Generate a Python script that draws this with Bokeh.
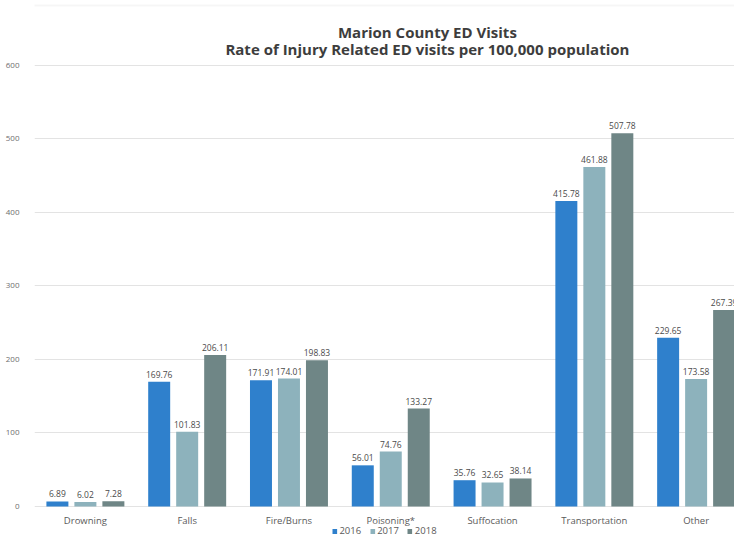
from bokeh.plotting import figure
from bokeh.models import (ColumnDataSource, Range1d, FixedTicker, Legend,
                          LegendItem, Label, BoxAnnotation)
from bokeh.transform import dodge
from bokeh.core.properties import value
from bokeh.embed import file_html
from bokeh.resources import INLINE

categories = ["Drowning", "Falls", "Fire/Burns", "Poisoning*",
              "Suffocation", "Transportation", "Other"]
years = ["2016", "2017", "2018"]
rate_2016 = [6.89, 169.76, 171.91, 56.01, 35.76, 415.78, 229.65]
rate_2017 = [6.02, 101.83, 174.01, 74.76, 32.65, 461.88, 173.58]
rate_2018 = [7.28, 206.11, 198.83, 133.27, 38.14, 507.78, 267.39]
y_ticks = [0, 100, 200, 300, 400, 500, 600]

colors = ["#2f80cc", "#8db2bc", "#6f8686"]
FONT = "Open Sans"

src = ColumnDataSource(dict(
    x=list(range(len(categories))),
    cat=categories,
    r2016=rate_2016, r2017=rate_2017, r2018=rate_2018,
    t2016=[f"{v:.2f}" for v in rate_2016],
    t2017=[f"{v:.2f}" for v in rate_2017],
    t2018=[f"{v:.2f}" for v in rate_2018],
))

# the plot area runs the full height; category names and legend sit below zero
p = figure(width=734, height=540, output_backend="svg", toolbar_location=None,
           x_range=Range1d(-0.5, 6.377), y_range=Range1d(-46.26, 688.4),
           min_border_left=34, min_border_right=0, min_border_top=0,
           min_border_bottom=0)
p.outline_line_color = None
p.background_fill_color = "white"
p.border_fill_color = "white"
p.xaxis.visible = False

# thin frame around the slide area
p.add_layout(BoxAnnotation(left=-0.765, right=10, top=681.6, bottom=-200,
                           fill_color=None, line_color="#e2e2e2",
                           line_width=2, level="underlay"))

offsets = [-0.275, 0.0, 0.275]
items = []
for yr, off, col in zip(years, offsets, colors):
    r = p.vbar(x=dodge("x", off, range=p.x_range), top="r" + yr, width=0.216,
               bottom=0, source=src, fill_color=col, line_color=None)
    items.append(LegendItem(label=yr, renderers=[r]))
    p.text(x=dodge("x", off, range=p.x_range), y="r" + yr, text="t" + yr,
           source=src, text_align="center", text_baseline="bottom",
           y_offset=-4, text_font=value(FONT), text_font_size="8.5px",
           text_color="#4a4a4a")

# category names under the baseline
p.text(x="x", y=0, text="cat", source=src, text_align="center",
       text_baseline="top", y_offset=8, text_font=value(FONT),
       text_font_size="9.5px", text_color="#5a5a5a")

# two-line heading
p.add_layout(Label(x=3.36, y=646, text="Marion County ED Visits",
                   text_align="center", text_baseline="middle",
                   text_font=FONT, text_font_style="bold",
                   text_font_size="15px", text_color="#3d3d3d"))
p.add_layout(Label(x=3.36, y=622,
                   text="Rate of Injury Related ED visits per 100,000 population",
                   text_align="center", text_baseline="middle",
                   text_font=FONT, text_font_style="bold",
                   text_font_size="15px", text_color="#3d3d3d"))

# value axis
p.yaxis.ticker = FixedTicker(ticks=y_ticks)
p.yaxis.axis_line_color = None
p.yaxis.major_tick_line_color = None
p.yaxis.minor_tick_line_color = None
p.yaxis.major_label_standoff = 9
p.yaxis.major_label_text_font = FONT
p.yaxis.major_label_text_font_size = "8px"
p.yaxis.major_label_text_color = "#6e6e6e"

p.xgrid.grid_line_color = None
p.ygrid.ticker = FixedTicker(ticks=y_ticks)
p.ygrid.grid_line_color = "#e3e3e3"
p.ygrid.grid_line_width = 1

legend = Legend(items=items, orientation="horizontal", location="bottom_center",
                glyph_width=6, glyph_height=6, label_standoff=2, spacing=8,
                padding=2, margin=3, border_line_color=None,
                background_fill_alpha=0,
                label_text_font=FONT, label_text_font_size="9.5px",
                label_text_color="#5a5a5a", label_height=10)
p.add_layout(legend)

open("out.html", "w").write(file_html(p, INLINE))
